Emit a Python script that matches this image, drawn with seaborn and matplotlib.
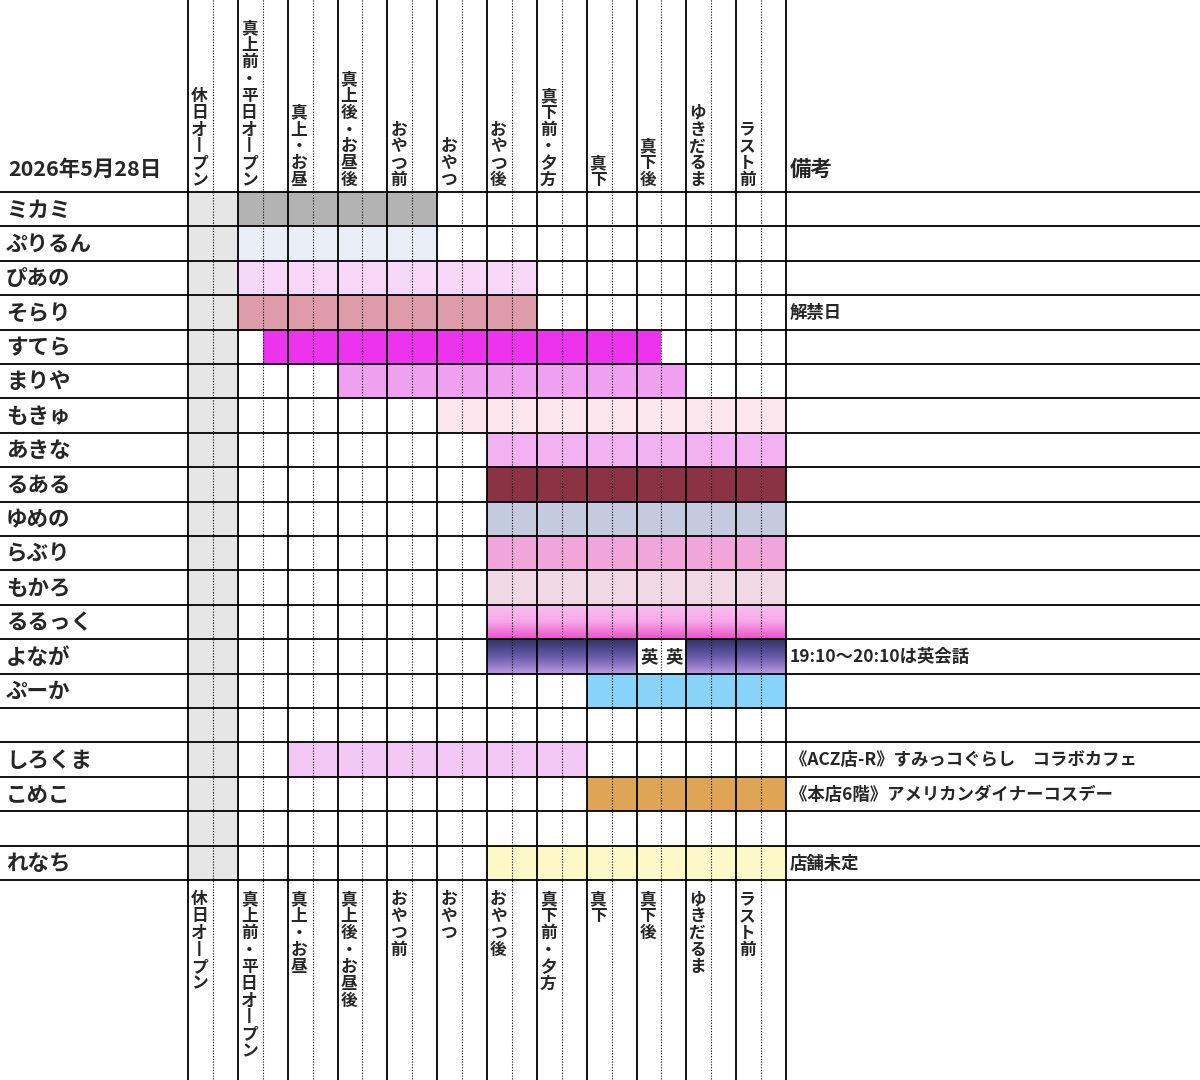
import numpy as np
import matplotlib
matplotlib.use("Agg")
import matplotlib.pyplot as plt
import seaborn as sns
from matplotlib.colors import LinearSegmentedColormap

sns.set_theme(style="white")
plt.rcParams['font.family'] = ['Noto Sans CJK JP', 'DejaVu Sans']

date_label = "2026年5月28日"
remark_header = "備考"
slots = ["休日オープン", "真上前・平日オープン", "真上・お昼", "真上後・お昼後", "おやつ前", "おやつ",
         "おやつ後", "真下前・夕方", "真下", "真下後", "ゆきだるま", "ラスト前"]
names = ["ミカミ", "ぷりるん", "ぴあの", "そらり", "すてら", "まりや", "もきゅ", "あきな", "るある",
         "ゆめの", "らぶり", "もかろ", "るるっく", "よなが", "ぷーか", "", "しろくま", "こめこ", "", "れなち"]
# shift start/end in half-slot units (None = no shift)
starts = [2, 2, 2, 2, 3, 6, 10, 12, 12, 12, 12, 12, 12, 12, 16, None, 4, 16, None, 12]
ends = [10, 10, 14, 14, 19, 20, 24, 24, 24, 24, 24, 24, 24, 24, 24, None, 16, 24, None, 24]
colors = ["#b3b3b3", "#e9eef7", "#f8d8f8", "#dd9ca8", "#ee33ee", "#f0a0f0", "#fce6ee", "#f2b2f2",
          "#8b3344", "#c4cbdf", "#f0a6d8", "#f0d8e4", "grad_pink", "grad_purple", "#88d4f8", None,
          "#f4c8f4", "#dda555", None, "#fdf8c8"]
remarks = ["", "", "", "解禁日", "", "", "", "", "", "", "", "", "", "19:10～20:10は英会話", "", "",
           "《ACZ店-R》すみっコぐらし　コラボカフェ", "《本店6階》アメリカンダイナーコスデー", "", "店舗未定"]
english_row = "よなが"
english_halves = [18, 19]
english_label = "英"

PX = (786 - 188) / 24.0
RH = (880 - 192) / 20.0
XL, XR = -188 / PX, (1200 - 188) / PX
YT, YB = -192 / RH, 20 + 200 / RH

fig = plt.figure(figsize=(12, 10.8), dpi=100)
ax = fig.add_axes([0, 0, 1, 1])
ax.set_xlim(XL, XR)
ax.set_ylim(YB, YT)
ax.axis("off")

nrow = len(names)
ax.barh(np.arange(nrow) + 0.5, [2] * nrow, left=0, height=1, color="#e6e6e6", linewidth=0)

grads = {"grad_pink": ["#f6c0f0", "#f6a8e8", "#ec50c8"],
         "grad_purple": ["#2e3466", "#6a5aa8", "#b89ae8"]}
for i, (s, e, c) in enumerate(zip(starts, ends, colors)):
    if s is None:
        continue
    if c in grads:
        cmap = LinearSegmentedColormap.from_list(c, grads[c])
        g = np.linspace(0, 1, 64).reshape(-1, 1)
        for h in range(s, e, 2):
            ax.imshow(g, cmap=cmap, aspect="auto", extent=(h, min(h + 2, e), i + 1, i), zorder=1)
    else:
        ax.barh(i + 0.5, e - s, left=s, height=1, color=c, linewidth=0, zorder=1)
    if names[i] == english_row:
        for h in english_halves:
            ax.barh(i + 0.5, 1, left=h, height=1, color="white", linewidth=0, zorder=2)
            ax.text(h + 0.5, i + 0.52, english_label, ha="center", va="center", fontsize=12.5,
                    fontweight="bold", zorder=3)

for k in range(0, 25):
    if k % 2 == 0:
        ax.plot([k, k], [YT, YB], color="black", lw=1.3, zorder=4)
    else:
        ax.plot([k, k], [YT, YB], color="black", lw=0.8, ls=(0, (1, 1.5)), zorder=4)
for r in range(0, nrow + 1):
    ax.plot([XL, XR], [r, r], color="black", lw=1.3, zorder=4)

def vert(t):
    return "\n".join("丨" if ch == "ー" else ch for ch in t)

for j, sname in enumerate(slots):
    x = 2 * j + 0.12
    ax.text(x, -0.08, vert(sname), ha="left", va="bottom", fontsize=12, fontweight="bold",
            linespacing=0.92, zorder=5)
    ax.text(x, 20.3, vert(sname), ha="left", va="top", fontsize=12, fontweight="bold",
            linespacing=0.92, zorder=5)

ax.text(XL + 8 / PX, -0.65, date_label, ha="left", va="center", fontsize=15.5, fontweight="bold")
ax.text(24 + 4 / PX, -0.65, remark_header, ha="left", va="center", fontsize=15.5, fontweight="bold")
for i, n in enumerate(names):
    ax.text(XL + 6 / PX, i + 0.52, n, ha="left", va="center", fontsize=15.5, fontweight="bold")
    if remarks[i]:
        ax.text(24 + 4 / PX, i + 0.52, remarks[i], ha="left", va="center", fontsize=12.5,
                fontweight="bold")

fig.savefig("out.png", dpi=100, facecolor="white")
